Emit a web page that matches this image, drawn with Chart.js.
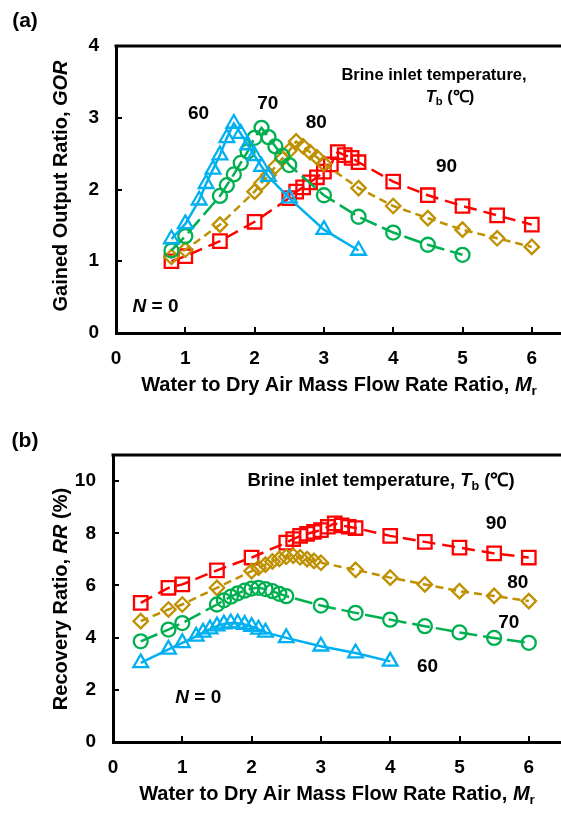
<!DOCTYPE html>
<html>
<head>
<meta charset="utf-8">
<script src="https://cdn.jsdelivr.net/npm/chart.js@4.4.1/dist/chart.umd.min.js"></script>
<style>
  html, body { margin: 0; padding: 0; background: #fff; width: 561px; height: 813px; overflow: hidden; }
  .panel { position: absolute; left: 0; }
  #panelA { top: 0; }
  #panelB { top: 400px; }
</style>
</head>
<body>
<div id="panelA" class="panel"><canvas id="gorChart" width="600" height="400"></canvas></div>
<div id="panelB" class="panel"><canvas id="rrChart" width="600" height="413"></canvas></div>
<script>
// ---- axis ticks ----
const xTickValues = [0, 1, 2, 3, 4, 5, 6];
const gorTickValues = [0, 1, 2, 3, 4];
const rrTickValues = [0, 2, 4, 6, 8, 10];

// ---- brine inlet temperatures (°C) ----
const brineTemps = ['60', '70', '80', '90'];

// ---- (a) gained output ratio vs mass flow rate ratio ----
const gorMr60 = [0.8, 1.0, 1.2, 1.3, 1.4, 1.5, 1.6, 1.7, 1.8, 1.9, 2.0, 2.1, 2.2, 2.5, 3.0, 3.5];
const gor60   = [1.31, 1.52, 1.85, 2.08, 2.28, 2.48, 2.72, 2.92, 2.78, 2.62, 2.47, 2.32, 2.18, 1.88, 1.44, 1.15];

const gorMr70 = [0.8, 1.0, 1.5, 1.6, 1.7, 1.8, 1.9, 2.0, 2.1, 2.2, 2.3, 2.4, 2.5, 3.0, 3.5, 4.0, 4.5, 5.0];
const gor70   = [1.15, 1.35, 1.91, 2.06, 2.21, 2.37, 2.53, 2.72, 2.86, 2.73, 2.60, 2.47, 2.34, 1.92, 1.62, 1.40, 1.23, 1.09];

const gorMr80 = [0.8, 1.0, 1.5, 2.0, 2.1, 2.2, 2.3, 2.4, 2.5, 2.6, 2.7, 2.8, 2.9, 3.0, 3.5, 4.0, 4.5, 5.0, 5.5, 6.0];
const gor80   = [1.06, 1.16, 1.51, 1.97, 2.09, 2.20, 2.32, 2.43, 2.54, 2.67, 2.60, 2.52, 2.45, 2.36, 2.02, 1.77, 1.60, 1.44, 1.32, 1.20];

const gorMr90 = [0.8, 1.0, 1.5, 2.0, 2.5, 2.6, 2.7, 2.8, 2.9, 3.0, 3.1, 3.2, 3.3, 3.4, 3.5, 4.0, 4.5, 5.0, 5.5, 6.0];
const gor90   = [1.00, 1.07, 1.28, 1.55, 1.88, 1.97, 2.03, 2.10, 2.17, 2.25, 2.35, 2.52, 2.48, 2.44, 2.38, 2.11, 1.92, 1.77, 1.64, 1.51];

// ---- (b) recovery ratio (%) vs mass flow rate ratio ----
const rrMr60 = [0.4, 0.8, 1.0, 1.2, 1.3, 1.4, 1.5, 1.6, 1.7, 1.8, 1.9, 2.0, 2.1, 2.2, 2.5, 3.0, 3.5, 4.0];
const rr60   = [3.03, 3.55, 3.80, 4.05, 4.20, 4.33, 4.44, 4.52, 4.56, 4.55, 4.50, 4.42, 4.32, 4.20, 3.99, 3.67, 3.41, 3.09];

const rrMr70 = [0.4, 0.8, 1.0, 1.5, 1.6, 1.7, 1.8, 1.9, 2.0, 2.1, 2.2, 2.3, 2.4, 2.5, 3.0, 3.5, 4.0, 4.5, 5.0, 5.5, 6.0];
const rr70   = [3.86, 4.31, 4.56, 5.27, 5.43, 5.57, 5.70, 5.80, 5.88, 5.91, 5.86, 5.78, 5.68, 5.59, 5.23, 4.95, 4.69, 4.44, 4.20, 3.99, 3.80];

const rrMr80 = [0.4, 0.8, 1.0, 1.5, 2.0, 2.1, 2.2, 2.3, 2.4, 2.5, 2.6, 2.7, 2.8, 2.9, 3.0, 3.5, 4.0, 4.5, 5.0, 5.5, 6.0];
const rr80   = [4.63, 5.08, 5.27, 5.91, 6.55, 6.68, 6.80, 6.92, 7.02, 7.10, 7.14, 7.08, 7.01, 6.94, 6.87, 6.60, 6.30, 6.04, 5.78, 5.60, 5.40];

const rrMr90 = [0.4, 0.8, 1.0, 1.5, 2.0, 2.5, 2.6, 2.7, 2.8, 2.9, 3.0, 3.1, 3.2, 3.3, 3.4, 3.5, 4.0, 4.5, 5.0, 5.5, 6.0];
const rr90   = [5.33, 5.91, 6.04, 6.58, 7.07, 7.64, 7.78, 7.90, 7.98, 8.05, 8.12, 8.25, 8.38, 8.30, 8.25, 8.20, 7.90, 7.67, 7.45, 7.23, 7.07];

// ---- series styling ----
const seriesStyle = {
  '60': { color: '#00B0F0', point: 'triangle', radius: 8.5, dash: [] },
  '70': { color: '#00B050', point: 'circle',   radius: 7,   dash: [18, 6] },
  '80': { color: '#BF9000', point: 'rectRot',  radius: 7.2, dash: [8, 5] },
  '90': { color: '#FF0000', point: 'rect',     radius: 9.5, dash: [13, 7] }
};

const FONT = '"Liberation Sans", Arial, Helvetica, sans-serif';

function toPoints(xs, ys) {
  return xs.map((x, i) => ({ x: x, y: ys[i] }));
}

function makeDataset(temp, xs, ys) {
  const s = seriesStyle[temp];
  return {
    label: temp,
    data: toPoints(xs, ys),
    borderColor: s.color,
    borderWidth: 2.5,
    borderDash: s.dash,
    backgroundColor: 'rgba(0,0,0,0)',
    pointStyle: s.point,
    pointRadius: s.radius,
    pointHoverRadius: s.radius,
    pointBorderColor: s.color,
    pointBackgroundColor: 'rgba(0,0,0,0)',
    pointBorderWidth: 2.3,
    tension: 0,
    fill: false
  };
}

// Draw a run of text pieces (normal / italic / subscript) side by side
function drawRich(ctx, parts, x, y, size, align) {
  const pieces = parts.map(p => {
    const sz = p.sub ? size * 0.68 : size;
    const font = (p.italic ? 'italic ' : '') + 'bold ' + sz + 'px ' + FONT;
    ctx.font = font;
    return { t: p.t, font: font, w: ctx.measureText(p.t).width, dy: p.sub ? size * 0.3 : 0 };
  });
  const total = pieces.reduce((a, p) => a + p.w, 0);
  let cx = align === 'center' ? x - total / 2 : (align === 'right' ? x - total : x);
  ctx.textAlign = 'left';
  ctx.textBaseline = 'middle';
  ctx.fillStyle = '#000';
  pieces.forEach(p => {
    ctx.font = p.font;
    ctx.fillText(p.t, cx, y + p.dy);
    cx += p.w;
  });
}

// Frame, inward tick marks and all text annotations for one panel
function decorPlugin(cfg) {
  return {
    id: 'panelDecor',
    afterDraw(chart) {
      const ctx = chart.ctx;
      const area = chart.chartArea;
      const xs = chart.scales.x;
      const ys = chart.scales.y;
      ctx.save();
      // top frame line
      ctx.strokeStyle = '#000';
      ctx.lineWidth = 3;
      ctx.beginPath();
      ctx.moveTo(area.left - 1.5, area.top);
      ctx.lineTo(chart.width, area.top);
      ctx.stroke();
      // inward tick marks
      ctx.lineWidth = 2;
      ctx.beginPath();
      ys.ticks.forEach(t => {
        const py = Math.round(ys.getPixelForValue(t.value));
        ctx.moveTo(area.left, py);
        ctx.lineTo(area.left + 6, py);
      });
      xs.ticks.forEach(t => {
        const px = Math.round(xs.getPixelForValue(t.value));
        ctx.moveTo(px, area.bottom);
        ctx.lineTo(px, area.bottom - 6);
      });
      ctx.stroke();

      // panel tag
      drawRich(ctx, [{ t: cfg.tag }], 25, cfg.tagY, 21, 'center');

      // x axis title
      drawRich(ctx, [
        { t: 'Water to Dry Air Mass Flow Rate Ratio, ' },
        { t: 'M', italic: true },
        { t: 'r', sub: true }
      ], cfg.xTitleX, area.bottom + cfg.xTitleGap, 20, 'center');

      // y axis title (rotated)
      ctx.save();
      ctx.translate(cfg.yTitleX, cfg.yTitleY);
      ctx.rotate(-Math.PI / 2);
      drawRich(ctx, cfg.yTitle, 0, 0, 20, 'center');
      ctx.restore();

      // legend-style caption
      cfg.caption.forEach(line => drawRich(ctx, line.parts, line.x, line.y, line.size, 'center'));

      // temperature labels placed in data space
      cfg.curveLabels.forEach(l => {
        drawRich(ctx, [{ t: l.t }], xs.getPixelForValue(l.x), ys.getPixelForValue(l.y), 19, 'center');
      });

      // number of stages
      drawRich(ctx, [{ t: 'N', italic: true }, { t: ' = 0' }],
        xs.getPixelForValue(cfg.nLabel.x), ys.getPixelForValue(cfg.nLabel.y), 19, 'center');
      ctx.restore();
    }
  };
}

function makeChart(canvasId, datasets, opt, decor) {
  return new Chart(document.getElementById(canvasId), {
    type: 'line',
    data: { datasets: datasets },
    options: {
      responsive: false,
      animation: false,
      devicePixelRatio: 1,
      layout: { padding: { left: 0, top: opt.top, right: opt.right, bottom: 0 } },
      plugins: { legend: { display: false }, tooltip: { enabled: false } },
      scales: {
        x: {
          type: 'linear',
          min: 0,
          max: 6.5,
          grid: { display: false, drawTicks: false },
          border: { display: true, color: '#000', width: 3 },
          ticks: {
            color: '#000',
            font: { family: FONT, size: 19, weight: 'bold' },
            padding: 14,
            maxRotation: 0
          },
          afterBuildTicks: s => { s.ticks = xTickValues.map(v => ({ value: v })); },
          afterFit: s => { s.height = opt.xAxisHeight; }
        },
        y: {
          type: 'linear',
          min: 0,
          max: opt.yMax,
          grid: { display: false, drawTicks: false },
          border: { display: true, color: '#000', width: 3 },
          ticks: {
            color: '#000',
            font: { family: FONT, size: 19, weight: 'bold' },
            padding: 17
          },
          afterBuildTicks: s => { s.ticks = opt.yTicks.map(v => ({ value: v })); },
          afterFit: s => { s.width = opt.yAxisWidth; }
        }
      }
    },
    plugins: [decorPlugin(decor)]
  });
}

// ---- panel (a) ----
makeChart('gorChart', [
  makeDataset('60', gorMr60, gor60),
  makeDataset('70', gorMr70, gor70),
  makeDataset('80', gorMr80, gor80),
  makeDataset('90', gorMr90, gor90)
], {
  top: 46, right: 600 - (116 + 6.5 * 69.3), yMax: 4, yTicks: gorTickValues,
  yAxisWidth: 116, xAxisHeight: 67
}, {
  tag: '(a)', tagY: 21,
  xTitleX: 339, xTitleGap: 52,
  yTitleX: 61, yTitleY: 186,
  yTitle: [{ t: 'Gained Output Ratio, ' }, { t: 'GOR', italic: true }],
  caption: [
    { parts: [{ t: 'Brine inlet temperature,' }], x: 434, y: 75, size: 16.5 },
    { parts: [{ t: 'T', italic: true }, { t: 'b', sub: true }, { t: ' (℃)' }], x: 450, y: 97, size: 16.5 }
  ],
  curveLabels: [
    { t: brineTemps[0], x: 1.19, y: 3.05 },
    { t: brineTemps[1], x: 2.19, y: 3.19 },
    { t: brineTemps[2], x: 2.89, y: 2.93 },
    { t: brineTemps[3], x: 4.77, y: 2.31 }
  ],
  nLabel: { x: 0.57, y: 0.36 }
});

// ---- panel (b) ----
makeChart('rrChart', [
  makeDataset('60', rrMr60, rr60),
  makeDataset('70', rrMr70, rr70),
  makeDataset('80', rrMr80, rr80),
  makeDataset('90', rrMr90, rr90)
], {
  top: 55, right: 600 - (113 + 6.5 * 69.3), yMax: 11, yTicks: rrTickValues,
  yAxisWidth: 113, xAxisHeight: 71
}, {
  tag: '(b)', tagY: 41,
  xTitleX: 337, xTitleGap: 52,
  yTitleX: 61, yTitleY: 199,
  yTitle: [{ t: 'Recovery Ratio, ' }, { t: 'RR', italic: true }, { t: ' (%)' }],
  caption: [
    { parts: [{ t: 'Brine inlet temperature, ' }, { t: 'T', italic: true }, { t: 'b', sub: true }, { t: ' (℃)' }], x: 381, y: 81, size: 18.5 }
  ],
  curveLabels: [
    { t: brineTemps[3], x: 5.53, y: 8.35 },
    { t: brineTemps[2], x: 5.84, y: 6.10 },
    { t: brineTemps[1], x: 5.71, y: 4.56 },
    { t: brineTemps[0], x: 4.54, y: 2.87 }
  ],
  nLabel: { x: 1.23, y: 1.69 }
});
</script>
</body>
</html>
